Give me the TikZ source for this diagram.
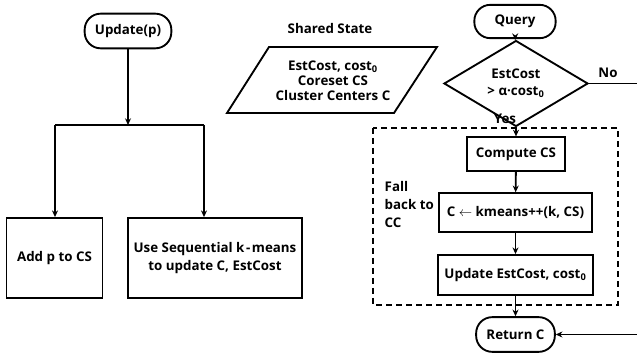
\documentclass[tikz,border=0pt]{standalone}
\usepackage{fontspec}
\setmainfont{Open Sans}
\usetikzlibrary{shapes.geometric,arrows.meta}

\tikzset{
    term/.style={draw,line width=1.4pt,rounded corners=12pt,align=center},
    proc/.style={draw,line width=1.4pt,align=center},
    cond/.style={draw,line width=1.4pt,diamond,align=center,inner sep=0pt},
    flow/.style={line width=1.4pt,->}
}

\begin{document}
\begin{tikzpicture}[x=0.75pt,y=-0.75pt,>={Stealth[length=5pt,width=4.5pt]},
    every node/.style={font=\bfseries\fontsize{10}{13.5}\selectfont}]

    \useasboundingbox (0,0) rectangle (637,356);

    % Update branch
    \node[term,minimum width=65pt,minimum height=26pt] (upd) at (128,31) {Update(p)};
    \node[proc,minimum width=72pt,minimum height=60pt] (add) at (54.5,258) {Add p to CS};
    \node[proc,minimum width=130pt,minimum height=60pt] (seq) at (215,258)
        {Use Sequential k\kern1.2pt-\kern1.2pt means\\to update C, EstCost};
    \coordinate (split) at (128,125);
    \coordinate (splitL) at (55,125);
    \coordinate (splitR) at (204,125);
    \draw[flow] (upd) -- (split);
    \draw[line width=1.4pt] (splitL) -- (splitR);
    \draw[flow] (splitL) -- (splitL |- add.north);
    \draw[flow] (splitR) -- (splitR |- seq.north);

    % Shared state
    \node (shared) at (330,29) {Shared State};
    \draw[line width=1.4pt] (269,47) -- (437,47) -- (394,113) -- (227,113) -- cycle;
    \node[align=center,font=\bfseries\fontsize{10}{11.25}\selectfont] (state) at (333,81)
        {EstCost, cost\textsubscript{0}\\Coreset CS\\Cluster Centers C};

    % Query branch
    \node[term,minimum width=61pt,minimum height=25pt] (query) at (515,21.5) {Query};
    \node[cond,minimum width=108pt,minimum height=47pt,font=\bfseries\fontsize{10}{12.75}\selectfont]
        (test) at (516,83.5) {EstCost\\> α·cost\textsubscript{0}};
    \node[proc,minimum width=73pt,minimum height=25pt] (cs) at (516,154) {Compute CS};
    \node[proc,minimum width=115pt,minimum height=29pt] (km) at (515.5,212.5) {C $\leftarrow$ kmeans++(k, CS)};
    \node[proc,minimum width=116pt,minimum height=30pt] (upc) at (515.5,275) {Update EstCost, cost\textsubscript{0}};
    \node[term,minimum width=59pt,minimum height=26pt] (ret) at (515.5,334.5) {Return C};

    % Fall back region
    \draw[line width=1.1pt,dash pattern=on 4.5pt off 3pt] (373,128) rectangle (618,305);
    \node[align=left,anchor=west] (fall) at (380,205) {Fall\\back to\\CC};

    \draw[flow] (query) -- (test);
    \draw[flow] (test) -- (cs);
    \node (yes) at (505,118.5) {Yes};
    \draw[flow] (cs) -- (km);
    \draw[flow] (km) -- (upc);
    \draw[flow] (upc) -- (ret);

    % No path
    \coordinate (noTop) at (638,83.5);
    \coordinate (noBot) at (638,334.5);
    \draw[flow] (test.east) -- (noTop) -- (noBot) -- (ret.east);
    \node (no) at (608,73) {No};

\end{tikzpicture}
\end{document}
